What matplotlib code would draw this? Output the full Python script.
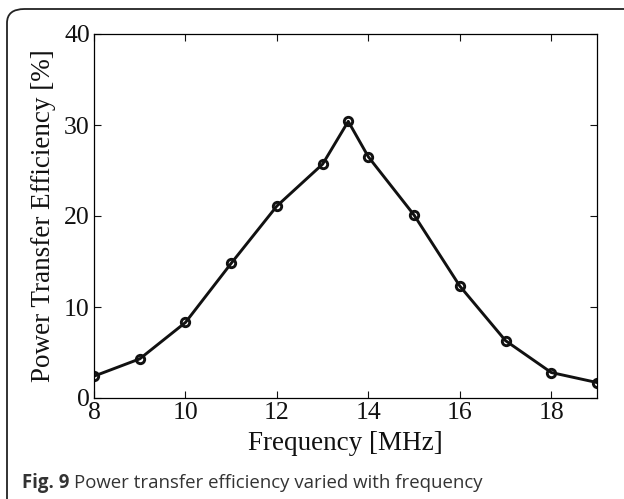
import matplotlib.pyplot as plt
from matplotlib.patches import FancyBboxPatch

freq = [8, 9, 10, 11, 12, 13, 13.56, 14, 15, 16, 17, 18, 19]
eff = [2.4, 4.3, 8.3, 14.8, 21.1, 25.7, 30.4, 26.5, 20.1, 12.3, 6.3, 2.8, 1.7]

xticks = [8, 10, 12, 14, 16, 18]
yticks = [0, 10, 20, 30, 40]

fig = plt.figure(figsize=(6.24, 4.99), dpi=100)

# rounded frame around the figure (cut off on the right and bottom)
frame = FancyBboxPatch((7 / 624, -0.1), 1.1, 1 - 9 / 499 + 0.1,
                       boxstyle='round,pad=0,rounding_size=0.028',
                       transform=fig.transFigure, fill=False,
                       edgecolor='#222222', linewidth=1.3, clip_on=False)
fig.patches.append(frame)

ax = fig.add_axes([94 / 624, 1 - 398 / 499, (597 - 94) / 624, (398 - 34) / 499])
ax.plot(freq, eff, color='#111111', linewidth=2.1, marker='o',
        markersize=6, markerfacecolor='none', markeredgewidth=2.1,
        markeredgecolor='#111111')

ax.set_xlim(8, 19)
ax.set_ylim(0, 40)
ax.set_xticks(xticks)
ax.set_yticks(yticks)

serif = 'Liberation Serif'
ax.tick_params(direction='in', top=True, right=True, length=5, width=0.8,
               labelsize=18.5, pad=3, colors='#111111')
for lab in ax.get_xticklabels() + ax.get_yticklabels():
    lab.set_fontfamily(serif)
for sp in ax.spines.values():
    sp.set_linewidth(0.9)

ax.set_xlabel('Frequency [MHz]', fontfamily=serif, fontsize=19.5, labelpad=5,
              color='#111111')
ax.set_ylabel('Power Transfer Efficiency [%]', fontfamily=serif, fontsize=19.5,
              labelpad=6, color='#111111')

# caption
t1 = fig.text(22 / 624, 1 - 488 / 499, 'Fig. 9', fontfamily='Open Sans',
              fontweight='bold', fontsize=13.4, color='#333333', va='baseline')
fig.canvas.draw()
bb = t1.get_window_extent()
fig.text(bb.x1 / 624 + 0.008, 1 - 488 / 499,
         'Power transfer efficiency varied with frequency',
         fontfamily='Open Sans', fontsize=13.4, color='#333333', va='baseline')

fig.savefig('out.png', dpi=100)
